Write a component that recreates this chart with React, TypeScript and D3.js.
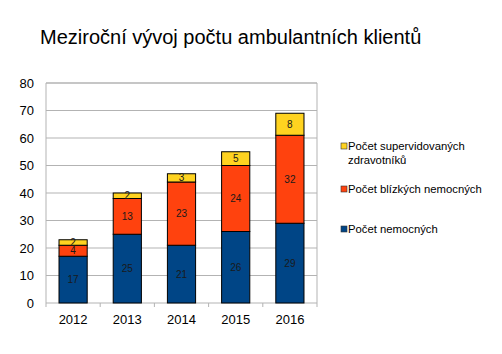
import React from 'react';
import * as d3 from 'd3';

const years = ['2012', '2013', '2014', '2015', '2016'];
const nemocni = [17, 25, 21, 26, 29];
const blizci = [4, 13, 23, 24, 32];
const zdravotnici = [2, 2, 3, 5, 8];
const seriesNames = ['Počet nemocných', 'Počet blízkých nemocných', 'Počet supervidovaných zdravotníků'];
const seriesColors = ['#004586', '#ff420e', '#ffd320'];
const yTicks = [0, 10, 20, 30, 40, 50, 60, 70, 80];

const W = 502;
const H = 354;
const font = '"Liberation Sans", Arial, sans-serif';

export default function App() {
  const x = d3.scaleBand().domain(years).range([46, 317]).paddingInner(0.48).paddingOuter(0.24);
  const y = d3.scaleLinear().domain([0, 80]).range([303, 83]);

  const rows = years.map((yr, i) => ({ year: yr, s0: nemocni[i], s1: blizci[i], s2: zdravotnici[i] }));
  const stacked = d3.stack<any>().keys(['s0', 's1', 's2'])(rows);

  const band = d3.scaleBand().domain(years).range([46, 317]);

  // legend order is reversed from stack order, first entry wraps
  const legend = [
    { idx: 2, lines: ['Počet supervidovaných', 'zdravotníků'], y: 146 },
    { idx: 1, lines: [seriesNames[1]], y: 189 },
    { idx: 0, lines: [seriesNames[0]], y: 229 },
  ];

  return (
    <svg width={W} height={H} style={{ position: 'absolute', left: 0, top: 0, background: '#fff' }} fontFamily={font}>
      <text x={40} y={44} fontSize={20} fill="#000">Meziroční vývoj počtu ambulantních klientů</text>

      {yTicks.map(t => (
        <g key={t}>
          <line x1={46} x2={317} y1={y(t)} y2={y(t)} stroke="#b3b3b3" strokeWidth={t === 80 ? 1.5 : 1} />
          <text x={34} y={y(t)} dy="0.35em" textAnchor="end" fontSize={13} fill="#000">{t}</text>
        </g>
      ))}
      <line x1={46} x2={46} y1={83} y2={303} stroke="#b3b3b3" />
      <line x1={317} x2={317} y1={83} y2={303} stroke="#b3b3b3" />
      {years.map(yr => (
        <line key={yr} x1={band(yr)!} x2={band(yr)!} y1={303} y2={307} stroke="#b3b3b3" />
      ))}
      <line x1={317} x2={317} y1={303} y2={307} stroke="#b3b3b3" />
      {years.map(yr => (
        <text key={yr} x={x(yr)! + x.bandwidth() / 2} y={319} dy="0.35em" textAnchor="middle" fontSize={13} fill="#000">{yr}</text>
      ))}

      {stacked.map((layer, li) => (
        <g key={li}>
          {layer.map((d: any, i) => (
            <rect key={i} x={x(years[i])!} width={x.bandwidth()} y={y(d[1])} height={y(d[0]) - y(d[1])}
              fill={seriesColors[li]} stroke="#000" strokeWidth={1} />
          ))}
        </g>
      ))}
      {stacked.map((layer, li) => (
        <g key={'l' + li}>
          {layer.map((d: any, i) => (
            <text key={i} x={x(years[i])! + x.bandwidth() / 2} y={(y(d[0]) + y(d[1])) / 2} dy="0.35em"
              textAnchor="middle" fontSize={10} fill="#1a1a1a">{d[1] - d[0]}</text>
          ))}
        </g>
      ))}

      {legend.map(l => (
        <g key={l.idx}>
          <rect x={341} y={l.y - 3} width={6} height={6} fill={seriesColors[l.idx]} stroke="#333" strokeWidth={0.6} />
          {l.lines.map((ln, k) => (
            <text key={k} x={348} y={l.y + k * 14} dy="0.35em" fontSize={11.3} fill="#000">{ln}</text>
          ))}
        </g>
      ))}
    </svg>
  );
}
